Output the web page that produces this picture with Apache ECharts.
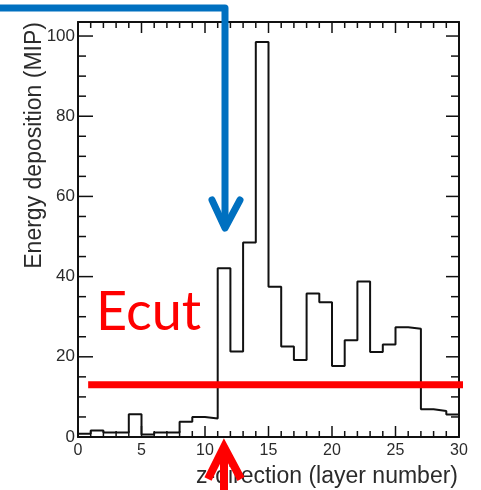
<!DOCTYPE html>
<html>
<head>
<meta charset="utf-8">
<script src="https://cdn.jsdelivr.net/npm/echarts@6/dist/echarts.min.js"></script>
<style>
  html, body { margin: 0; padding: 0; background: #fff; }
  #chart { width: 481px; height: 490px; }
</style>
</head>
<body>
<div id="chart"></div>
<script>
// Layer bin edges (layer number along z) and deposited energy per layer (MIP)
const layerEdges = [0, 1, 2, 3, 4, 5, 6, 7, 8, 9, 10, 11, 12, 13, 14, 15,
                    16, 17, 18, 19, 20, 21, 22, 23, 24, 25, 26, 27, 28, 29, 30];
const energy = [0.8, 1.6, 1.1, 1.1, 5.7, 0.6, 1.1, 1.1, 3.8, 5.0,
                4.6, 42.1, 21.3, 48.5, 98.5, 37.5, 22.6, 19.2, 35.8, 33.6,
                17.7, 24.1, 38.8, 21.2, 23.1, 27.4, 27.0, 6.9, 6.5, 5.6];
// Energy cut threshold (MIP) and the layer span of the cut line
const ecutLevel = 13;
const ecutSpan = [0.8, 30.55];

// Tick positions on the frame (major ticks carry labels)
const xMajorTicks = [0, 5, 10, 15, 20, 25, 30];
const xMinorTicks = [1, 2, 3, 4, 6, 7, 8, 9, 11, 12, 13, 14, 16, 17, 18, 19,
                     21, 22, 23, 24, 26, 27, 28, 29];
const yMajorTicks = [0, 20, 40, 60, 80, 100];
const yMinorTicks = [5, 10, 15, 25, 30, 35, 45, 50, 55, 65, 70, 75, 85, 90, 95];

const axisColor = '#111';
const textColor = '#2b2b2b';
const font = 'Liberation Sans, Arial, sans-serif';
const yMax = 103.5;

// Step-histogram points: each bin's left edge, plus the closing right edge
const histPoints = energy.map((v, i) => [layerEdges[i], v]);
histPoints.push([layerEdges[layerEdges.length - 1], energy[energy.length - 1]]);

// Tick items: [x, y, inward length on near side, inward length on far side]
const xTickItems = xMajorTicks.map(v => [v, 0, 11, 11])
  .concat(xMinorTicks.map(v => [v, 0, 6, 6]));
const yTickItems = yMajorTicks.map(v => [0, v, 15, 13])
  .concat(yMinorTicks.map(v => [0, v, 8, 8]));

const tickStyle = { stroke: axisColor, lineWidth: 1.5 };

// Draws one tick on both opposite sides of the frame, pointing inwards
function renderTick(isX) {
  return function (params, api) {
    const cs = params.coordSys;
    const p = api.coord([api.value(0), api.value(1)]);
    const nearLen = api.value(2), farLen = api.value(3);
    let a, b;
    if (isX) {
      const yb = cs.y + cs.height, yt = cs.y;
      a = { x1: p[0], y1: yb, x2: p[0], y2: yb - nearLen };
      b = { x1: p[0], y1: yt, x2: p[0], y2: yt + farLen };
    } else {
      const xl = cs.x, xr = cs.x + cs.width;
      a = { x1: xl, y1: p[1], x2: xl + nearLen, y2: p[1] };
      b = { x1: xr, y1: p[1], x2: xr - farLen, y2: p[1] };
    }
    return {
      type: 'group',
      children: [
        { type: 'line', shape: a, style: tickStyle },
        { type: 'line', shape: b, style: tickStyle }
      ]
    };
  };
}

function frameLine() {
  return { show: true, onZero: false, lineStyle: { color: axisColor, width: 2 } };
}

const chart = echarts.init(document.getElementById('chart'), null, { renderer: 'canvas' });

chart.setOption({
  animation: false,
  backgroundColor: '#fff',
  grid: { left: 78, right: 22, top: 22, bottom: 53 },
  title: {
    text: 'z-direction (layer number)',
    right: 23, top: 465, padding: 0,
    textStyle: { fontSize: 23, fontWeight: 'normal', color: textColor, fontFamily: font }
  },
  xAxis: [
    {
      type: 'value', position: 'bottom', min: 0, max: 30, interval: 5,
      axisLine: frameLine(), axisTick: { show: false }, minorTick: { show: false },
      axisLabel: { fontSize: 16, color: textColor, fontFamily: font, margin: 6 },
      splitLine: { show: false }
    },
    {
      type: 'value', position: 'top', min: 0, max: 30, interval: 5,
      axisLine: frameLine(), axisTick: { show: false }, axisLabel: { show: false },
      splitLine: { show: false }
    }
  ],
  yAxis: [
    {
      type: 'value', position: 'left', min: 0, max: yMax, interval: 20,
      axisLine: frameLine(), axisTick: { show: false },
      axisLabel: {
        fontSize: 17, color: textColor, fontFamily: font, margin: 3,
        formatter: v => (yMajorTicks.indexOf(v) >= 0 ? String(v) : '')
      },
      splitLine: { show: false }
    },
    {
      type: 'value', position: 'right', min: 0, max: yMax, interval: 20,
      axisLine: frameLine(), axisTick: { show: false }, axisLabel: { show: false },
      splitLine: { show: false }
    }
  ],
  series: [
    {
      name: 'Energy deposition',
      type: 'line', step: 'end',
      xAxisIndex: 0, yAxisIndex: 0,
      data: histPoints,
      symbol: 'none',
      lineStyle: { color: axisColor, width: 2 },
      z: 3
    },
    {
      name: 'Ecut',
      type: 'line',
      xAxisIndex: 0, yAxisIndex: 0,
      data: ecutSpan.map(x => [x, ecutLevel]),
      symbol: 'none', clip: false,
      lineStyle: { color: '#ff0000', width: 7, cap: 'butt' },
      z: 5
    },
    {
      name: 'xTicks', type: 'custom', xAxisIndex: 0, yAxisIndex: 0,
      data: xTickItems, encode: { x: 0, y: 1 },
      renderItem: renderTick(true), silent: true, z: 4
    },
    {
      name: 'yTicks', type: 'custom', xAxisIndex: 0, yAxisIndex: 0,
      data: yTickItems, encode: { x: 0, y: 1 },
      renderItem: renderTick(false), silent: true, z: 4
    }
  ],
  graphic: [
    {
      type: 'text', x: 35, y: 22, rotation: Math.PI / 2,
      style: {
        text: 'Energy deposition (MIP)', fill: textColor,
        font: '23px ' + font, align: 'right', verticalAlign: 'middle'
      }
    },
    {
      type: 'text', x: 96, y: 313,
      style: {
        text: 'Ecut', fill: '#ff0000',
        font: '54px Lato, sans-serif', align: 'left', verticalAlign: 'middle'
      },
      z: 10
    },
    {
      // blue arrow: runs along the top, turns down towards the shower start
      type: 'polyline', z: 20,
      shape: { points: [[-5, 8], [225, 8], [225, 226]] },
      style: { fill: null, stroke: '#0070c0', lineWidth: 7, lineCap: 'round', lineJoin: 'round' }
    },
    {
      type: 'polyline', z: 20,
      shape: { points: [[212, 200], [225, 228], [240, 200]] },
      style: { fill: null, stroke: '#0070c0', lineWidth: 7, lineCap: 'round', lineJoin: 'round' }
    },
    {
      // red arrow pointing up at the same layer from below the axis
      type: 'polyline', z: 20,
      shape: { points: [[224, 495], [224, 449]] },
      style: { fill: null, stroke: '#ff0000', lineWidth: 8, lineCap: 'butt' }
    },
    {
      type: 'polyline', z: 20,
      shape: { points: [[208, 479], [224, 447], [241, 479]] },
      style: { fill: null, stroke: '#ff0000', lineWidth: 8, lineCap: 'butt', lineJoin: 'miter' }
    }
  ]
});
</script>
</body>
</html>
